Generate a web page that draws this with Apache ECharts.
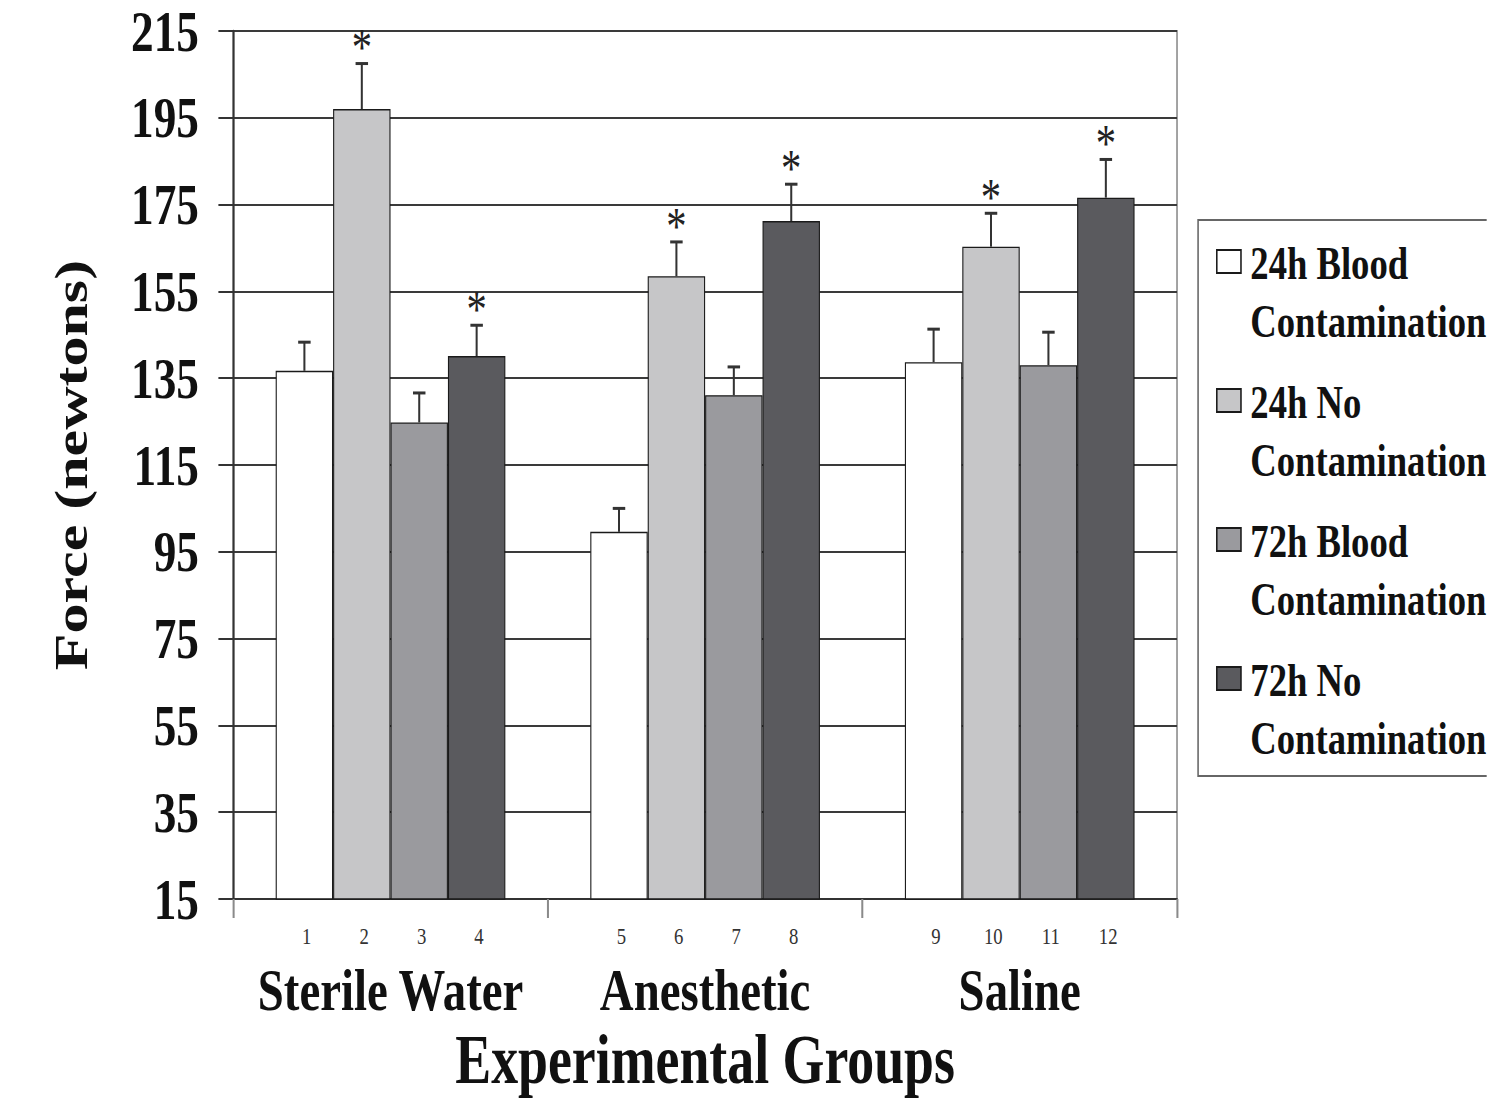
<!DOCTYPE html>
<html>
<head>
<meta charset="utf-8">
<script src="https://cdn.jsdelivr.net/npm/echarts@6/dist/echarts.min.js"></script>
<style>
html, body { margin: 0; padding: 0; overflow: hidden; background: #ffffff; width: 1487px; height: 1099px; }
#wrap { width: 1487px; height: 1099px; overflow: hidden; position: relative; }
#chart { width: 1906px; height: 1099px; position: absolute; left: 0; top: 0; transform: scaleX(0.78); transform-origin: 0 0; }
</style>
</head>
<body>
<div id="wrap"><div id="chart"></div></div>
<script>
// ---- data ----
const categories = ['Sterile Water', 'Anesthetic', 'Saline'];
const seriesNames = ['24h Blood Contamination', '24h No Contamination', '72h Blood Contamination', '72h No Contamination'];
const blood24 = [136.7, 99.6, 138.7];
const none24 = [197.0, 158.5, 165.3];
const blood72 = [124.8, 131.1, 138.0];
const none72 = [140.1, 171.2, 176.6];
const blood24Upper = [143.3, 105.0, 146.3];
const none24Upper = [207.5, 166.4, 173.0];
const blood72Upper = [131.6, 137.6, 145.6];
const none72Upper = [147.2, 179.7, 185.4];
const blood24Sig = [0, 0, 0];
const none24Sig = [1, 1, 1];
const blood72Sig = [0, 0, 0];
const none72Sig = [1, 1, 1];
const blood24Num = [1, 5, 9];
const none24Num = [2, 6, 10];
const blood72Num = [3, 7, 11];
const none72Num = [4, 8, 12];
const yMin = 15, yMax = 215, yStep = 20;

// ---- styling ----
const colors = ['#ffffff', '#c6c6c8', '#9a9a9e', '#5a5a5e'];
const FONT = 'Liberation Serif, Times New Roman, serif';
const CAT_GAP = 0.27;

const values = [blood24, none24, blood72, none72];
const uppers = [blood24Upper, none24Upper, blood72Upper, none72Upper];
const sigs = [blood24Sig, none24Sig, blood72Sig, none72Sig];
const nums = [blood24Num, none24Num, blood72Num, none72Num];

const errData = [];
for (let k = 0; k < 4; k++) {
  for (let g = 0; g < categories.length; g++) {
    errData.push([g, values[k][g], uppers[k][g], k, nums[k][g], sigs[k][g]]);
  }
}

const barSeries = seriesNames.map((name, k) => ({
  name: name,
  type: 'bar',
  data: values[k],
  barGap: '0%',
  barCategoryGap: (CAT_GAP * 100) + '%',
  itemStyle: { color: colors[k], borderColor: '#1a1a1a', borderWidth: 1.4 },
  emphasis: { disabled: true },
  z: 2
}));

const errSeries = {
  type: 'custom',
  data: errData,
  clip: false,
  silent: true,
  z: 5,
  encode: { x: 0, y: 1 },
  renderItem: function (params, api) {
    const g = api.value(0), v = api.value(1), hi = api.value(2), k = api.value(3), num = api.value(4), sig = api.value(5);
    const band = api.size([1, 0])[0];
    const bw = band * (1 - CAT_GAP) / 4;
    const top = api.coord([g, v]);
    const x = top[0] + (k - 1.5) * bw;
    const yTop = top[1];
    const yHi = api.coord([g, hi])[1];
    const yBase = api.coord([g, yMin])[1];
    const children = [
      { type: 'line', shape: { x1: x, y1: yTop, x2: x, y2: yHi }, style: { stroke: '#333', lineWidth: 2.6 } },
      { type: 'line', shape: { x1: x - 8, y1: yHi, x2: x + 8, y2: yHi }, style: { stroke: '#333', lineWidth: 3 } },
      { type: 'text', x: x + 3, y: yBase + 37, style: { text: String(num), fontSize: 24, fontFamily: FONT, fill: '#333', align: 'center', verticalAlign: 'middle' } }
    ];
    if (sig) {
      children.push({ type: 'text', x: x, y: yHi - 16, style: { text: '*', fontSize: 52, fontFamily: FONT, fill: '#222', align: 'center', verticalAlign: 'middle' } });
    }
    return { type: 'group', children: children };
  }
};

const chart = echarts.init(document.getElementById('chart'), null, { renderer: 'svg', width: 1906, height: 1099 });
chart.setOption({
  animation: false,
  backgroundColor: '#ffffff',
  grid: { left: 299, right: 397, top: 31, bottom: 200, show: true, borderColor: '#8a8a8a', borderWidth: 2, backgroundColor: 'transparent', containLabel: false, outerBoundsMode: 'none' },
  legend: {
    orient: 'vertical',
    left: 1536,
    top: 220,
    padding: [13, 140, 8, 23],
    itemGap: 21,
    itemWidth: 38,
    itemHeight: 116,
    icon: 'path://M0,16H31V39H0Z M0,0L0,0 M38,116L38,116',
    selectedMode: false,
    backgroundColor: '#ffffff',
    borderColor: '#666',
    borderWidth: 2,
    data: seriesNames,
    formatter: function (name) { return name.replace(' Contamination', '\nContamination'); },
    textStyle: { fontFamily: FONT, fontWeight: 'bold', fontSize: 47, lineHeight: 58, color: '#111' }
  },
  xAxis: {
    type: 'category',
    data: categories,
    axisLine: { lineStyle: { color: '#333', width: 2 } },
    axisTick: { show: true, length: 19, lineStyle: { color: '#8a8a8a', width: 2.6 } },
    axisLabel: { interval: 0, hideOverlap: false, fontFamily: FONT, fontWeight: 'bold', fontSize: 60, lineHeight: 60, color: '#111', margin: 61 },
    name: 'Experimental Groups',
    nameLocation: 'middle',
    nameGap: 121,
    nameTextStyle: { fontFamily: FONT, fontWeight: 'bold', fontSize: 69, lineHeight: 69, color: '#111' }
  },
  yAxis: {
    type: 'value',
    min: yMin,
    max: yMax,
    interval: yStep,
    axisLine: { show: true, lineStyle: { color: '#333', width: 2.6 } },
    axisTick: { show: true, length: 19, lineStyle: { color: '#333', width: 2 } },
    splitLine: { show: true, lineStyle: { color: '#3a3a3a', width: 2 } },
    axisLabel: { fontFamily: FONT, fontWeight: 'bold', fontSize: 58, lineHeight: 58, color: '#111', margin: 44 },
    name: 'Force (newtons)',
    nameLocation: 'middle',
    nameGap: 178,
    nameTextStyle: { fontFamily: FONT, fontWeight: 'bold', fontSize: 60, lineHeight: 60, color: '#111' }
  },
  series: barSeries.concat([errSeries])
});
</script>
</body>
</html>
